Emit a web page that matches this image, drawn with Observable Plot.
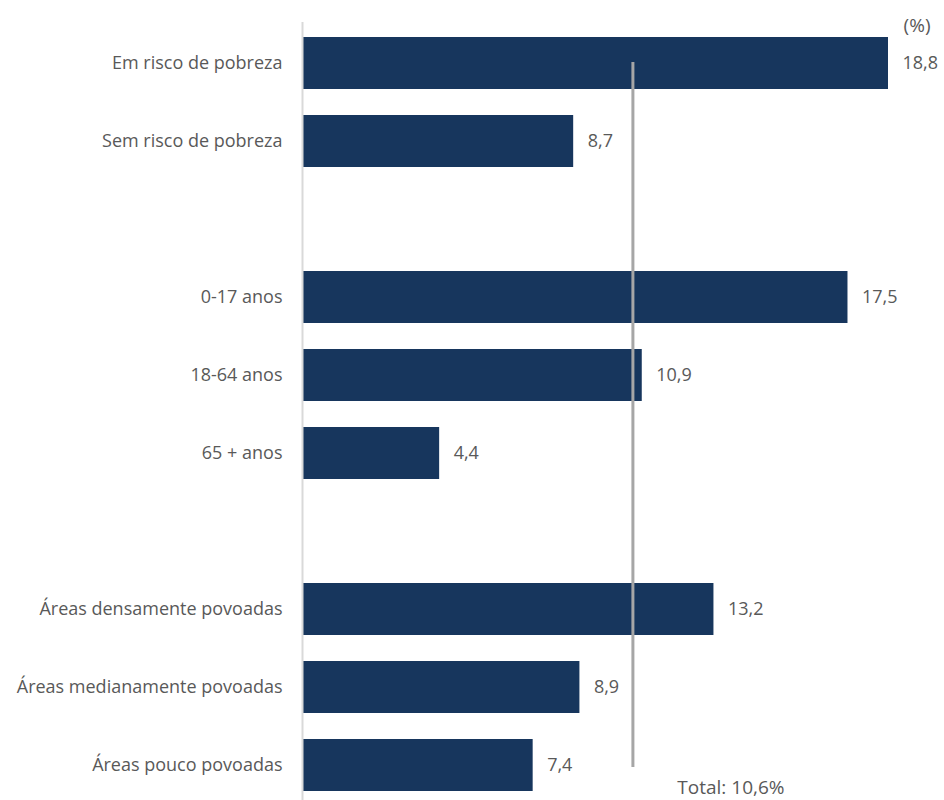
<!DOCTYPE html>
<html>
<head>
<meta charset="utf-8">
<script src="https://cdn.jsdelivr.net/npm/d3@7"></script>
<script src="https://cdn.jsdelivr.net/npm/@observablehq/plot@0.6"></script>
<style>
  html, body { margin: 0; padding: 0; background: #fff; }
  #chart svg { display: block; }
</style>
</head>
<body>
<div id="chart"></div>
<script>
// Categories in display order; blank entries are separator rows between groups
const categories = [
  "Em risco de pobreza",
  "Sem risco de pobreza",
  "",
  "0-17 anos",
  "18-64 anos",
  "65 + anos",
  " ",
  "Áreas densamente povoadas",
  "Áreas medianamente povoadas",
  "Áreas pouco povoadas"
];
const values = [18.8, 8.7, null, 17.5, 10.9, 4.4, null, 13.2, 8.9, 7.4];
const total = 10.6;
const totalLabel = "Total: 10,6%";
const unitLabel = "(%)";

const data = categories
  .map((c, i) => ({category: c, value: values[i]}))
  .filter(d => d.value != null);

const fmt = v => v.toFixed(1).replace(".", ",");
const font = "'Open Sans', Lato, sans-serif";
const textColor = "#595959";
const first = categories[0];
const last = categories[categories.length - 1];

const chart = Plot.plot({
  width: 944,
  height: 800,
  marginLeft: 302,
  marginRight: 56,
  marginTop: 22,
  marginBottom: 0,
  style: {fontFamily: font, fontSize: "18px", color: textColor, background: "#fff"},
  x: {domain: [0, 18.8], axis: null},
  y: {domain: categories, range: [21, 806], paddingInner: 0.336, paddingOuter: 0.168, label: null},
  marks: [
    Plot.axisY({tickSize: 0, tickPadding: 20, fontSize: 18, fill: textColor, label: null,
      tickFormat: d => d.trim()}),
    Plot.barX(data, {x: "value", y: "category", fill: "#17365d"}),
    Plot.ruleX([0], {stroke: "#d9d9d9", strokeWidth: 2}),
    Plot.text(data, {x: "value", y: "category", text: d => fmt(d.value), dx: 14,
      textAnchor: "start", fill: textColor, fontSize: 18}),
    Plot.ruleX([total], {x: d => d, y1: () => first, y2: () => last,
      insetTop: 25, insetBottom: 24, stroke: "#a6a6a6", strokeWidth: 3}),
    Plot.text([totalLabel], {x: () => total, y: () => last, text: d => d,
      dx: 98, dy: 22, fill: textColor, fontSize: 19}),
    Plot.text([unitLabel], {frameAnchor: "top-right", text: d => d, dx: 42, dy: -4,
      fill: textColor, fontSize: 19})
  ]
});
document.getElementById("chart").appendChild(chart);
</script>
</body>
</html>
